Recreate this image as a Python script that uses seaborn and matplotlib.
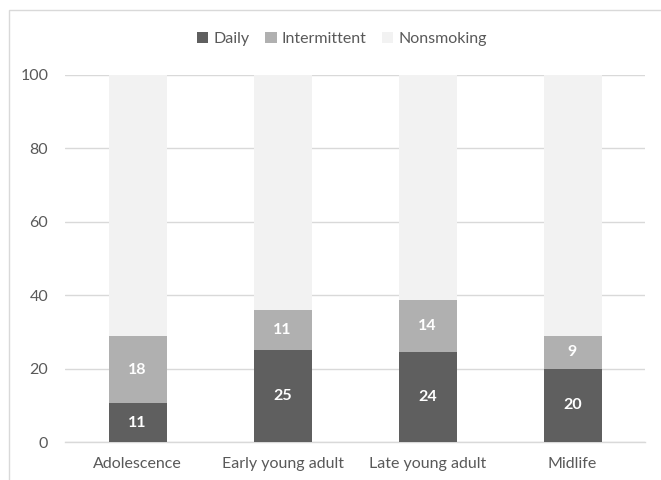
import pandas as pd
import matplotlib
matplotlib.use('Agg')
import matplotlib.pyplot as plt
import seaborn as sns
from matplotlib.patches import Patch, Rectangle

# data
stages = ['Adolescence', 'Early young adult', 'Late young adult', 'Midlife']
daily = [10.6, 25.1, 24.4, 19.9]
intermittent = [18.2, 10.9, 14.2, 9.0]
series_names = ['Daily', 'Intermittent', 'Nonsmoking']
colors = ['#5f5f5f', '#b0b0b0', '#f2f2f2']

df = pd.DataFrame({'stage': stages, 'daily': daily, 'intermittent': intermittent})
df['nonsmoking'] = 100 - df['daily'] - df['intermittent']
df['cum_int'] = df['daily'] + df['intermittent']
df['cum_all'] = df['cum_int'] + df['nonsmoking']

sns.set_style('white')
plt.rcParams['font.family'] = ['Lato', 'DejaVu Sans']

fig = plt.figure(figsize=(6.61, 4.80), dpi=100)
ax = fig.add_axes([65 / 661, 38 / 480, 580 / 661, 367 / 480])

# stacked bars drawn as layers (tallest first)
for col, c in zip(['cum_all', 'cum_int', 'daily'], colors[::-1]):
    sns.barplot(data=df, x='stage', y=col, color=c, width=0.4,
                saturation=1, ax=ax, zorder=3, edgecolor='none')

# value labels
for i, row in df.iterrows():
    ax.text(i, row['daily'] / 2, f"{row['daily']:.0f}", ha='center', va='center',
            color='white', fontsize=11.5, fontweight='bold', zorder=4)
    ax.text(i, row['daily'] + row['intermittent'] / 2, f"{row['intermittent']:.0f}",
            ha='center', va='center', color='white', fontsize=11.5,
            fontweight='bold', zorder=4)

ax.set_ylim(0, 100)
ax.set_xlim(-0.5, 3.5)
ax.set_yticks([0, 20, 40, 60, 80, 100])
ax.yaxis.grid(True, color='#d9d9d9', linewidth=1)
ax.set_axisbelow(True)
for s in ['top', 'right', 'left']:
    ax.spines[s].set_visible(False)
ax.spines['bottom'].set_color('#d9d9d9')
ax.spines['bottom'].set_linewidth(1)
ax.tick_params(axis='both', length=0, labelsize=11.5, labelcolor='#595959')
ax.tick_params(axis='y', pad=12)
ax.tick_params(axis='x', pad=11)
ax.set_xlabel('')
ax.set_ylabel('')

handles = [Patch(facecolor=c, edgecolor='none') for c in colors]
fig.legend(handles, series_names, loc='center', bbox_to_anchor=(342 / 661, 1 - 39 / 480),
           ncol=3, frameon=False, fontsize=11.5, handlelength=0.7, handleheight=0.7,
           handletextpad=0.3, columnspacing=1.0, labelcolor='#595959')

# outer chart border (partially cropped)
fig.add_artist(Rectangle((9 / 661, -0.5), 2, 0.5 + (480 - 10) / 480,
                         transform=fig.transFigure, fill=False,
                         edgecolor='#d9d9d9', linewidth=1))

fig.savefig('out.png', dpi=100)
plt.close()
